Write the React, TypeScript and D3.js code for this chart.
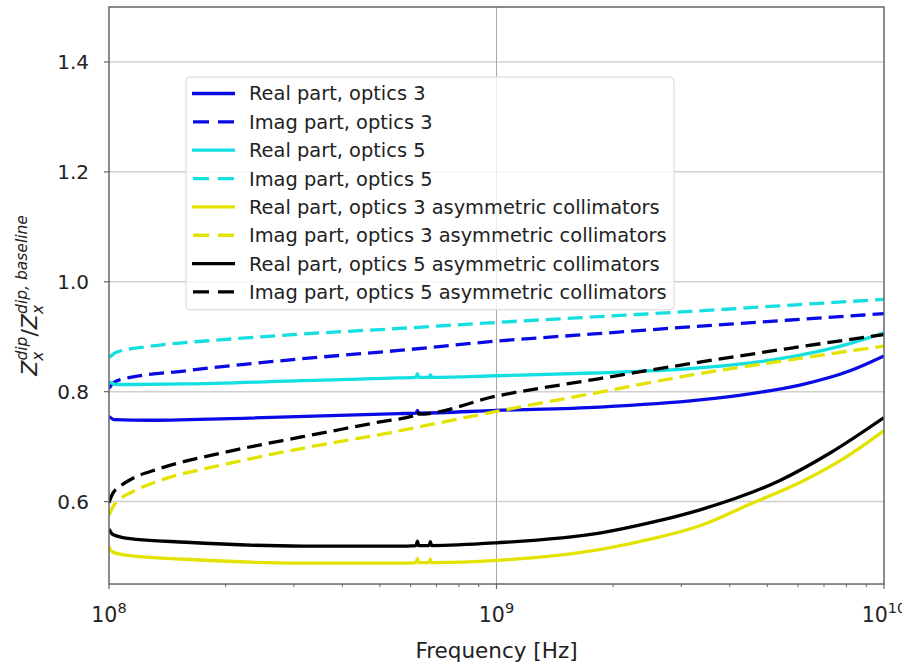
import React from "react";
import * as d3 from "d3";

type Pt = [number, number];

// frequency (Hz), value
const realOptics3: Pt[] = [
  [1e8, 0.755], [1.035e8, 0.749], [1.28e8, 0.748], [2.3e8, 0.752], [5.6e8, 0.760],
  [6.2e8, 0.761], [6.25e8, 0.766], [6.3e8, 0.761], [1e9, 0.766], [1.85e9, 0.772],
  [3.35e9, 0.785], [4.5e9, 0.796], [6.07e9, 0.812], [8.17e9, 0.838], [1e10, 0.865],
];
const imagOptics3: Pt[] = [
  [1e8, 0.806], [1.023e8, 0.815], [1.07e8, 0.822], [1.58e8, 0.838], [3.16e8, 0.860],
  [5.6e8, 0.875], [1e9, 0.892], [1.78e9, 0.905], [3.16e9, 0.918], [5.6e9, 0.930], [1e10, 0.942],
];
const realOptics5: Pt[] = [
  [1e8, 0.818], [1.047e8, 0.813], [1.58e8, 0.814], [3.16e8, 0.820], [5.6e8, 0.825],
  [6.2e8, 0.826], [6.25e8, 0.833], [6.3e8, 0.826], [6.7e8, 0.826], [6.75e8, 0.831], [6.8e8, 0.826],
  [1e9, 0.829], [1.78e9, 0.834], [3.16e9, 0.842], [4.47e9, 0.852], [6.03e9, 0.866],
  [7.94e9, 0.885], [1e10, 0.907],
];
const imagOptics5: Pt[] = [
  [1e8, 0.862], [1.047e8, 0.872], [1.26e8, 0.882], [2e8, 0.895], [3.16e8, 0.905],
  [5.6e8, 0.915], [1e9, 0.926], [1.78e9, 0.936], [3.16e9, 0.946], [5.6e9, 0.957], [1e10, 0.968],
];
const realOptics3Asym: Pt[] = [
  [1e8, 0.518], [1.023e8, 0.508], [1.12e8, 0.502], [1.58e8, 0.495], [3.16e8, 0.488],
  [5.6e8, 0.488], [6.2e8, 0.489], [6.25e8, 0.496], [6.3e8, 0.489], [6.7e8, 0.489],
  [6.75e8, 0.495], [6.8e8, 0.489], [1e9, 0.493], [1.86e9, 0.513], [2.51e9, 0.532],
  [3.35e9, 0.556], [4.5e9, 0.595], [6.2e9, 0.638], [7.94e9, 0.680], [1e10, 0.729],
];
const imagOptics3Asym: Pt[] = [
  [1e8, 0.575], [1.023e8, 0.590], [1.07e8, 0.605], [1.15e8, 0.618], [1.35e8, 0.638],
  [2e8, 0.668], [3.16e8, 0.697], [5e8, 0.722], [1e9, 0.764], [1.78e9, 0.797],
  [3.16e9, 0.830], [5.6e9, 0.857], [1e10, 0.883],
];
const realOptics5Asym: Pt[] = [
  [1e8, 0.550], [1.023e8, 0.540], [1.12e8, 0.533], [1.58e8, 0.526], [3.16e8, 0.519],
  [5.6e8, 0.519], [6.2e8, 0.520], [6.25e8, 0.528], [6.3e8, 0.520], [6.7e8, 0.520],
  [6.75e8, 0.527], [6.8e8, 0.520], [1e9, 0.525], [1.86e9, 0.543], [2.51e9, 0.562],
  [3.35e9, 0.585], [5.37e9, 0.638], [7.24e9, 0.688], [1e10, 0.753],
];
const imagOptics5Asym: Pt[] = [
  [1e8, 0.598], [1.023e8, 0.615], [1.07e8, 0.628], [1.15e8, 0.642], [1.35e8, 0.660],
  [2e8, 0.690], [3.16e8, 0.718], [5e8, 0.745], [6.2e8, 0.758], [6.25e8, 0.764], [6.3e8, 0.759],
  [1e9, 0.792], [1.78e9, 0.822], [3.16e9, 0.851], [5.6e9, 0.878], [1e10, 0.904],
];

const seriesLabels = [
  "Real part, optics 3",
  "Imag part, optics 3",
  "Real part, optics 5",
  "Imag part, optics 5",
  "Real part, optics 3 asymmetric collimators",
  "Imag part, optics 3 asymmetric collimators",
  "Real part, optics 5 asymmetric collimators",
  "Imag part, optics 5 asymmetric collimators",
];
const seriesData = [
  realOptics3, imagOptics3, realOptics5, imagOptics5,
  realOptics3Asym, imagOptics3Asym, realOptics5Asym, imagOptics5Asym,
];
const seriesColors = ["#0a0ae6", "#0a0ae6", "#13dfe0", "#13dfe0", "#e3e300", "#e3e300", "#000000", "#000000"];
const seriesDashed = [false, true, false, true, false, true, false, true];

const yTicks = [0.6, 0.8, 1.0, 1.2, 1.4];
const xMajorTicks = [1e8, 1e9, 1e10];
const xMajorExp = ["8", "9", "10"];

const FONT = "DejaVu Sans, sans-serif";

export default function App() {
  const W = 902, H = 665;
  const left = 109, right = 884, top = 7, bottom = 584;
  const x = d3.scaleLog().domain([1e8, 1e10]).range([left, right]);
  const y = d3.scaleLinear().domain([0.45, 1.5]).range([bottom, top]);
  const line = d3.line<Pt>().x(d => x(d[0])).y(d => y(d[1])).curve(d3.curveMonotoneX);

  const minorTicks: number[] = [];
  for (const dec of [1e8, 1e9]) for (let k = 2; k <= 9; k++) minorTicks.push(dec * k);

  const lgX = 186, lgY = 77, lgW = 488, lgRow = 28.35;
  const lgH = lgRow * 8 + 6;

  return (
    <svg width={W} height={H} style={{ position: "absolute", left: 0, top: 0, background: "#fff" }} fontFamily={FONT}>
      <defs>
        <clipPath id="plotclip">
          <rect x={left} y={top} width={right - left} height={bottom - top} />
        </clipPath>
      </defs>
      {/* grid */}
      {yTicks.map(t => (
        <line key={"gy" + t} x1={left} x2={right} y1={y(t)} y2={y(t)} stroke="#cfcfcf" strokeWidth={1.5} />
      ))}
      <line x1={x(1e9)} x2={x(1e9)} y1={top} y2={bottom} stroke="#a8a8a8" strokeWidth={1} />
      {/* series */}
      <g clipPath="url(#plotclip)">
        {seriesData.map((d, i) => (
          <path key={i} d={line(d) || ""} fill="none" stroke={seriesColors[i]} strokeWidth={3.3}
            strokeDasharray={seriesDashed[i] ? "15,7" : undefined} strokeLinejoin="round" />
        ))}
      </g>
      {/* frame */}
      <rect x={left} y={top} width={right - left} height={bottom - top} fill="none" stroke="#666" strokeWidth={1.5} />
      {/* y ticks */}
      {yTicks.map(t => (
        <g key={"yt" + t}>
          <line x1={left - 5} x2={left} y1={y(t)} y2={y(t)} stroke="#666" strokeWidth={1.2} />
          <text x={left - 20} y={y(t)} dy="0.36em" textAnchor="end" fontSize={20} fill="#222">{t.toFixed(1)}</text>
        </g>
      ))}
      {/* x ticks */}
      {minorTicks.map(t => (
        <line key={"mt" + t} x1={x(t)} x2={x(t)} y1={bottom} y2={bottom + 3} stroke="#666" strokeWidth={1} />
      ))}
      {xMajorTicks.map((t, i) => (
        <g key={"xt" + t}>
          <line x1={x(t)} x2={x(t)} y1={bottom} y2={bottom + 5} stroke="#666" strokeWidth={1.2} />
          <text x={x(t)} y={622} textAnchor="middle" fontSize={20.5} fill="#222">
            <tspan>10</tspan>
            <tspan dy={-9} fontSize={14.5}>{xMajorExp[i]}</tspan>
          </text>
        </g>
      ))}
      {/* axis labels */}
      <text x={(left + right) / 2} y={658} textAnchor="middle" fontSize={21.5} fill="#222">Frequency [Hz]</text>
      <g transform={`translate(37, ${(top + bottom) / 2}) rotate(-90)`}>
        <text textAnchor="middle" fontSize={22} fill="#222" fontStyle="italic">
          <tspan>Z</tspan>
          <tspan dy={6} fontSize={15.5}>x</tspan>
          <tspan dx={-9} dy={-16} fontSize={15.5}>dip</tspan>
          <tspan dy={10} fontStyle="normal">/</tspan>
          <tspan>Z</tspan>
          <tspan dy={6} fontSize={15.5}>x</tspan>
          <tspan dx={-9} dy={-16} fontSize={15.5}>dip, baseline</tspan>
        </text>
      </g>
      {/* legend */}
      <rect x={lgX} y={lgY} width={lgW} height={lgH} rx={4} fill="#fff" fillOpacity={0.8} stroke="#d6d6d6" strokeWidth={1} />
      {seriesLabels.map((lab, i) => {
        const cy = lgY + 16.5 + i * lgRow;
        return (
          <g key={"lg" + i}>
            <line x1={192} x2={235} y1={cy} y2={cy} stroke={seriesColors[i]} strokeWidth={3.3}
              strokeDasharray={seriesDashed[i] ? "16,9" : undefined} strokeDashoffset={seriesDashed[i] ? -1 : 0} />
            <text x={249} y={cy} dy="0.36em" fontSize={19.4} fill="#222">{lab}</text>
          </g>
        );
      })}
    </svg>
  );
}
